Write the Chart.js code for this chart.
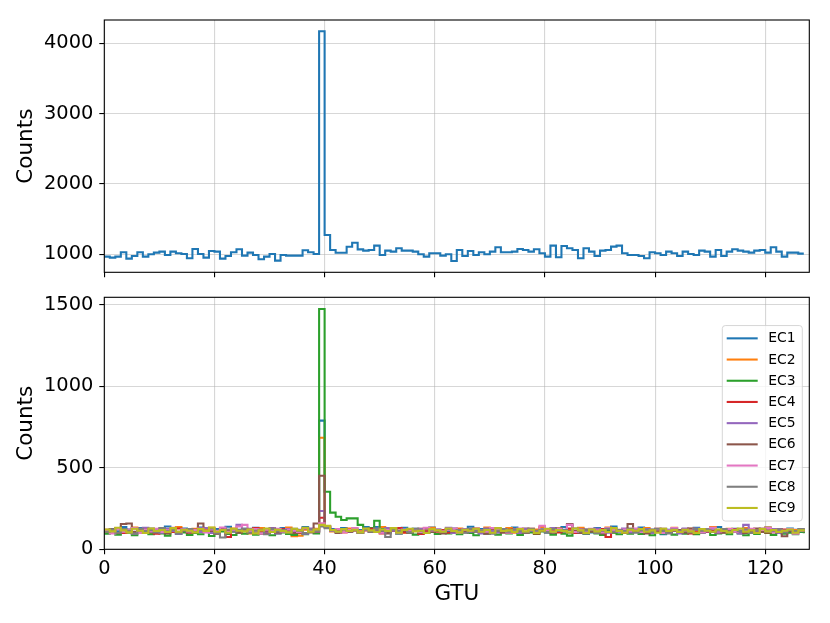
<!DOCTYPE html>
<html>
<head>
<meta charset="utf-8">
<script src="https://cdn.jsdelivr.net/npm/chart.js@4"></script>
<style>
  html, body { margin: 0; padding: 0; background: #fff; }
  #wrap { position: relative; width: 830px; height: 623px; }
  .box { position: absolute; left: 0; width: 830px; }
</style>
</head>
<body>
<div id="wrap">
  <div class="box" style="top:0;height:285px"><canvas id="topChart" width="830" height="285"></canvas></div>
  <div class="box" style="top:285px;height:338px"><canvas id="bottomChart" width="830" height="338"></canvas></div>
</div>
<script>
// GTU frame index (bin start), 128 frames
const gtu = Array.from({ length: 128 }, (_, i) => i);

// summed counts over all ECs (top panel)
const totalCounts = [
  967, 953, 967, 1028, 938, 976, 1028, 967, 1000, 1024, 1038, 990, 1038, 1014, 1005, 943,
  1076, 1005, 953, 1047, 1038, 938, 976, 1028, 1071, 981, 1024, 990, 929, 967, 1005, 910,
  990, 981, 981, 981, 1057, 1028, 1005, 4170, 1275, 1061, 1023, 1023, 1108, 1165, 1070, 1052,
  1062, 1123, 990, 1052, 1038, 1085, 1052, 1052, 1038, 1000, 967, 1014, 1014, 981, 1000, 905,
  1062, 976, 1047, 990, 1028, 1000, 1038, 1100, 1028, 1028, 1038, 1076, 1062, 1038, 1071, 1014,
  967, 1123, 957, 1118, 1085, 1062, 943, 1085, 1038, 976, 1052, 1062, 1109, 1123, 1014, 990,
  990, 976, 943, 1028, 1014, 990, 1038, 1014, 976, 1038, 1005, 990, 1052, 1038, 967, 1062,
  976, 1038, 1071, 1052, 1038, 1024, 1052, 1062, 1024, 1100, 1038, 967, 1024, 1024, 1010, 1010
];

// per-EC counts (bottom panel)
const ec1 = [
  116, 124, 110, 136, 120, 104, 130, 118, 126, 108, 122, 140, 114, 106, 128, 120,
  112, 134, 118, 102, 124, 116, 138, 110, 120, 126, 104, 132, 116, 122, 108, 118,
  130, 114, 124, 106, 136, 120, 112, 790, 140, 124, 116, 130, 110, 122, 118, 136,
  118, 136, 108, 124, 120, 114, 132, 104, 126, 118, 110, 134, 122, 116, 106, 128,
  120, 112, 138, 116, 124, 108, 130, 118, 122, 106, 134, 114, 126, 120, 110, 132,
  116, 124, 106, 136, 118, 112, 128, 120, 104, 130, 122, 114, 140, 108, 118, 126,
  110, 134, 116, 122, 106, 92, 120, 128, 114, 124, 108, 132, 118, 122, 110, 136,
  120, 114, 126, 104, 130, 118, 122, 108, 134, 116, 124, 112, 128, 120, 106, 118
];
const ec2 = [
  104, 120, 130, 108, 116, 134, 112, 124, 100, 118, 128, 110, 122, 136, 106, 114,
  126, 108, 118, 132, 102, 120, 114, 128, 110, 122, 98, 116, 130, 106, 124, 112,
  118, 134, 80, 84, 120, 108, 126, 685, 136, 110, 122, 104, 128, 116, 112, 124,
  112, 124, 136, 106, 118, 130, 102, 120, 114, 126, 108, 132, 116, 104, 122, 110,
  128, 114, 106, 124, 118, 134, 108, 120, 112, 130, 102, 116, 126, 110, 122, 136,
  106, 118, 128, 112, 122, 100, 132, 116, 108, 124, 118, 134, 104, 120, 112, 126,
  116, 108, 130, 120, 106, 122, 114, 132, 102, 118, 126, 110, 124, 116, 136, 108,
  112, 126, 118, 104, 130, 116, 122, 108, 134, 114, 120, 106, 124, 118, 112, 128
];
const ec3 = [
  96, 108, 90, 120, 102, 86, 114, 100, 92, 106, 98, 84, 110, 94, 104, 88,
  100, 92, 106, 82, 98, 110, 94, 88, 102, 96, 112, 90, 100, 106, 86, 98,
  104, 94, 88, 102, 92, 108, 98, 1475, 353, 225, 200, 180, 190, 190, 150, 125,
  130, 175, 124, 108, 120, 96, 112, 102, 90, 116, 100, 106, 94, 110, 98, 104,
  92, 108, 100, 86, 114, 96, 102, 90, 106, 98, 112, 88, 100, 104, 94, 110,
  102, 90, 108, 96, 84, 112, 100, 94, 106, 98, 88, 110, 102, 92, 104, 96,
  108, 94, 100, 86, 112, 98, 104, 90, 102, 96, 110, 92, 100, 106, 88, 98,
  104, 92, 108, 98, 86, 102, 94, 110, 100, 88, 106, 96, 102, 92, 108, 98
];
const ec4 = [
  120, 108, 126, 100, 116, 130, 104, 122, 112, 96, 124, 114, 106, 128, 118, 102,
  114, 124, 108, 120, 98, 126, 76, 116, 110, 122, 104, 130, 112, 100, 118, 108,
  124, 110, 116, 102, 128, 114, 106, 194, 140, 118, 108, 124, 112, 120, 102, 116,
  126, 108, 98, 120, 112, 130, 104, 116, 122, 94, 110, 124, 108, 118, 102, 114,
  120, 106, 116, 128, 100, 112, 124, 110, 118, 104, 122, 114, 108, 126, 98, 116,
  110, 122, 104, 118, 128, 100, 114, 106, 120, 112, 124, 76, 108, 118, 102, 116,
  122, 108, 114, 100, 126, 112, 104, 118, 110, 124, 98, 116, 120, 106, 114, 102,
  118, 108, 124, 112, 100, 120, 110, 126, 104, 116, 108, 122, 114, 102, 118, 110
];
const ec5 = [
  116, 104, 128, 110, 122, 98, 114, 132, 108, 120, 102, 126, 112, 96, 124, 110,
  118, 106, 130, 100, 114, 122, 104, 116, 150, 112, 126, 102, 118, 108, 130, 98,
  112, 124, 106, 120, 96, 128, 110, 235, 136, 114, 104, 122, 108, 118, 100, 126,
  110, 120, 104, 130, 114, 98, 122, 108, 116, 126, 102, 112, 120, 106, 132, 100,
  114, 124, 108, 118, 98, 128, 112, 104, 122, 110, 116, 100, 126, 114, 106, 120,
  104, 130, 112, 118, 150, 108, 122, 98, 116, 126, 110, 102, 120, 114, 128, 104,
  118, 108, 124, 100, 114, 122, 106, 116, 98, 128, 112, 120, 104, 110, 126, 102,
  116, 108, 122, 98, 150, 112, 104, 118, 110, 124, 100, 114, 120, 106, 116, 108
];
const ec6 = [
  112, 122, 100, 155, 158, 108, 118, 102, 126, 110, 116, 98, 124, 108, 114, 104,
  120, 158, 106, 112, 98, 128, 110, 116, 102, 124, 108, 118, 96, 114, 126, 104,
  110, 120, 100, 116, 128, 104, 158, 452, 142, 112, 100, 124, 108, 116, 102, 118,
  106, 122, 112, 98, 128, 110, 116, 104, 120, 100, 126, 108, 114, 98, 122, 110,
  116, 104, 124, 108, 118, 96, 126, 112, 102, 120, 110, 116, 100, 124, 106, 114,
  118, 102, 128, 110, 155, 112, 100, 122, 108, 116, 98, 124, 110, 114, 104, 155,
  108, 120, 98, 116, 110, 126, 102, 114, 118, 104, 128, 100, 112, 122, 108, 116,
  102, 118, 110, 124, 100, 114, 128, 106, 116, 104, 120, 80, 112, 108, 118, 104
];
const ec7 = [
  112, 98, 124, 108, 118, 130, 102, 120, 114, 126, 106, 116, 132, 100, 122, 110,
  118, 128, 104, 122, 112, 134, 106, 116, 140, 150, 110, 124, 98, 120, 114, 126,
  108, 122, 116, 106, 128, 112, 120, 160, 136, 114, 124, 104, 118, 130, 108, 120,
  112, 126, 102, 118, 130, 108, 120, 114, 124, 106, 132, 116, 122, 110, 118, 128,
  104, 120, 112, 126, 116, 108, 130, 118, 124, 102, 114, 128, 106, 120, 112, 145,
  118, 108, 124, 114, 150, 106, 120, 112, 126, 116, 104, 130, 118, 110, 122, 114,
  128, 106, 118, 112, 124, 100, 116, 130, 108, 120, 114, 126, 104, 118, 132, 110,
  116, 124, 108, 122, 112, 126, 100, 118, 130, 106, 120, 114, 124, 96, 116, 122
];
const ec8 = [
  108, 120, 102, 124, 114, 96, 126, 112, 118, 104, 130, 110, 120, 100, 116, 124,
  106, 118, 112, 128, 98, 72, 122, 108, 116, 126, 102, 114, 120, 92, 124, 110,
  118, 104, 126, 112, 100, 122, 110, 140, 130, 116, 106, 124, 112, 118, 102, 120,
  108, 124, 114, 76, 122, 110, 118, 104, 126, 112, 100, 120, 116, 106, 124, 112,
  118, 102, 126, 110, 116, 122, 96, 114, 124, 108, 120, 112, 104, 126, 114, 118,
  106, 124, 112, 118, 102, 128, 110, 116, 122, 100, 114, 126, 108, 118, 112, 124,
  102, 116, 120, 108, 126, 112, 98, 122, 110, 118, 104, 124, 114, 120, 106, 116,
  124, 108, 118, 112, 122, 100, 116, 126, 110, 114, 120, 104, 118, 112, 124, 108
];
const ec9 = [
  122, 110, 132, 116, 104, 126, 114, 100, 128, 112, 118, 106, 130, 108, 120, 114,
  104, 124, 112, 134, 108, 118, 102, 126, 114, 110, 122, 98, 116, 128, 106, 120,
  112, 104, 126, 116, 132, 108, 122, 150, 144, 118, 108, 124, 112, 120, 104, 128,
  116, 106, 122, 112, 130, 102, 118, 126, 110, 114, 100, 124, 116, 108, 128, 112,
  104, 120, 114, 126, 108, 118, 102, 130, 112, 116, 106, 124, 110, 120, 100, 114,
  126, 108, 118, 112, 104, 128, 116, 100, 122, 110, 118, 106, 130, 112, 102, 120,
  114, 124, 108, 116, 102, 126, 112, 118, 106, 120, 110, 100, 124, 114, 108, 122,
  112, 104, 118, 128, 108, 116, 100, 124, 110, 118, 106, 114, 122, 102, 116, 110
];

const ecNames = ['EC1', 'EC2', 'EC3', 'EC4', 'EC5', 'EC6', 'EC7', 'EC8', 'EC9'];
const ecSeries = [ec1, ec2, ec3, ec4, ec5, ec6, ec7, ec8, ec9];
const ecColors = ['#1f77b4', '#ff7f0e', '#2ca02c', '#d62728', '#9467bd', '#8c564b', '#e377c2', '#7f7f7f', '#bcbd22'];

// axis ticks and limits
const gtuTicks = [0, 20, 40, 60, 80, 100, 120];
const topTicks = [1000, 2000, 3000, 4000];
const bottomTicks = [0, 500, 1000, 1500];
const gtuRange = [0, 128];
const topRange = [744, 4331];
const bottomRange = [0, 1547];

const FONT = 'DejaVu Sans';
const GRID = 'rgba(176,176,176,0.5)';

function toPoints(values) {
  return gtu.map((x, i) => ({ x: x, y: values[i] }));
}

// black box around the plot area, like matplotlib spines
const frame = {
  id: 'frame',
  afterDatasetsDraw(chart) {
    const { ctx, chartArea: a } = chart;
    ctx.save();
    ctx.strokeStyle = '#000';
    ctx.lineWidth = 1.1;
    ctx.strokeRect(a.left, a.top, a.right - a.left, a.bottom - a.top);
    ctx.restore();
  }
};

// legend drawn inside the plot, centre right
const legendBox = {
  id: 'legendBox',
  afterDraw(chart) {
    const { ctx, chartArea: a } = chart;
    const w = 80, h = 195.5, row = 21.2, r = 3;
    const x0 = a.right - 7 - w;
    const y0 = (a.top + a.bottom) / 2 - h / 2;
    ctx.save();
    ctx.beginPath();
    ctx.roundRect(x0, y0, w, h, r);
    ctx.fillStyle = 'rgba(255,255,255,0.8)';
    ctx.fill();
    ctx.strokeStyle = 'rgba(204,204,204,0.8)';
    ctx.lineWidth = 1;
    ctx.stroke();
    ctx.font = '13.9px "' + FONT + '"';
    ctx.textBaseline = 'middle';
    ctx.textAlign = 'left';
    chart.data.datasets.forEach((ds, i) => {
      const y = y0 + 12.8 + i * row;
      ctx.strokeStyle = ds.borderColor;
      ctx.lineWidth = 2.08;
      ctx.beginPath();
      ctx.moveTo(x0 + 4.4, y);
      ctx.lineTo(x0 + 35.4, y);
      ctx.stroke();
      ctx.fillStyle = '#000';
      ctx.fillText(ds.label, x0 + 46, y + 0.5);
    });
    ctx.restore();
  }
};

function xAxis(showLabels, height) {
  return {
    type: 'linear',
    min: gtuRange[0],
    max: gtuRange[1],
    afterBuildTicks: s => { s.ticks = gtuTicks.map(v => ({ value: v })); },
    afterFit: s => { s.height = height; s.paddingLeft = 0; s.paddingRight = 0; },
    grid: { color: GRID, lineWidth: 1.1, tickColor: '#000', tickWidth: 1.1, tickLength: 5 },
    border: { display: false },
    ticks: {
      display: showLabels, color: '#000', padding: 3, maxRotation: 0, autoSkip: false,
      font: { family: FONT, size: 19.4 },
      callback: v => String(v)
    },
    title: {
      display: showLabels, text: 'GTU', color: '#000',
      font: { family: FONT, size: 21.5 }, padding: { top: 0, bottom: 15.7 }
    }
  };
}

function yAxis(range, ticks) {
  return {
    type: 'linear',
    min: range[0],
    max: range[1],
    afterBuildTicks: s => { s.ticks = ticks.map(v => ({ value: v })); },
    afterFit: s => { s.width = 104.3; s.paddingTop = 0; s.paddingBottom = 0; },
    grid: { color: GRID, lineWidth: 1.1, tickColor: '#000', tickWidth: 1.1, tickLength: 5 },
    border: { display: false },
    ticks: {
      color: '#000', padding: 6, autoSkip: false,
      font: { family: FONT, size: 19.4 },
      callback: v => String(v)
    },
    title: {
      display: true, text: 'Counts', color: '#000',
      font: { family: FONT, size: 21.5 }, padding: { top: 13.5, bottom: 0 }
    }
  };
}

const commonOptions = {
  responsive: false,
  animation: false,
  events: [],
  plugins: { legend: { display: false }, tooltip: { enabled: false } },
  elements: { point: { radius: 0 } }
};

new Chart(document.getElementById('topChart'), {
  type: 'line',
  data: {
    datasets: [{
      label: 'Total',
      data: toPoints(totalCounts),
      borderColor: '#1f77b4',
      borderWidth: 2.08,
      stepped: 'before',
      fill: false
    }]
  },
  options: {
    ...commonOptions,
    layout: { autoPadding: false, padding: { left: 0, right: 20.7, top: 20, bottom: 0 } },
    scales: { x: xAxis(false, 12.7), y: yAxis(topRange, topTicks) }
  },
  plugins: [frame]
});

new Chart(document.getElementById('bottomChart'), {
  type: 'line',
  data: {
    datasets: ecSeries.map((vals, i) => ({
      label: ecNames[i],
      data: toPoints(vals),
      borderColor: ecColors[i],
      borderWidth: 2.08,
      stepped: 'before',
      fill: false,
      order: ecSeries.length - 1 - i
    }))
  },
  options: {
    ...commonOptions,
    layout: { autoPadding: false, padding: { left: 0, right: 20.7, top: 12.3, bottom: 0 } },
    scales: { x: xAxis(true, 73.7), y: yAxis(bottomRange, bottomTicks) }
  },
  plugins: [frame, legendBox]
});
</script>
</body>
</html>
